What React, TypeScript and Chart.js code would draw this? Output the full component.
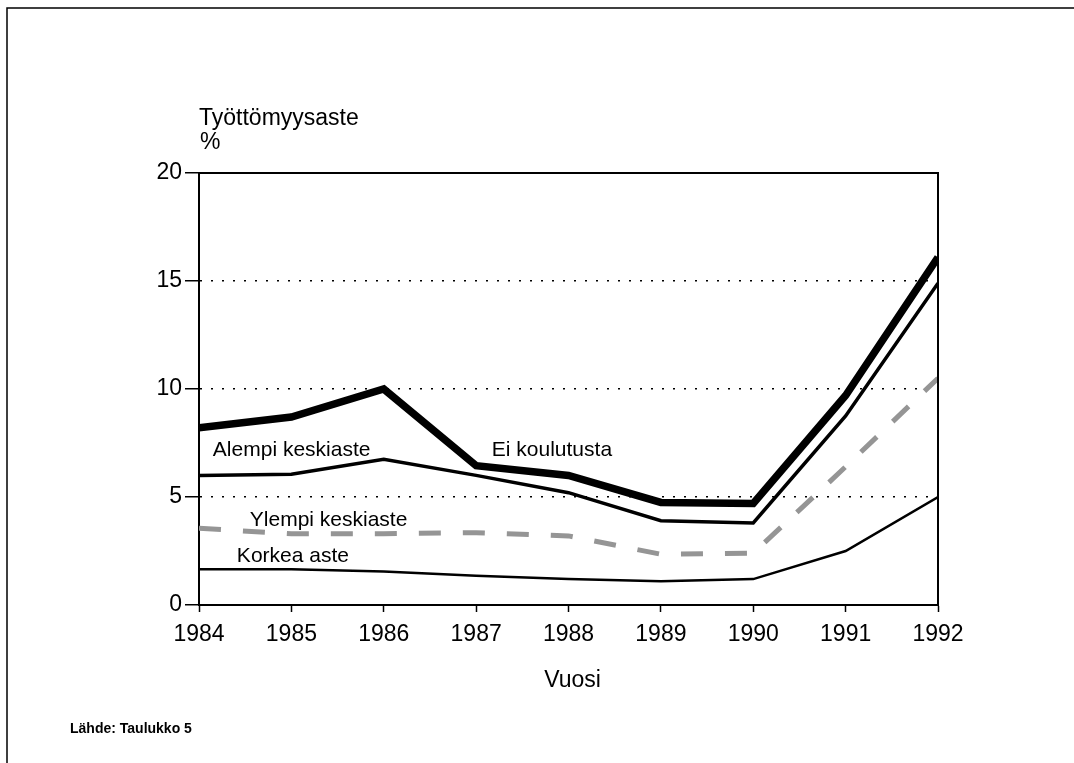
import React, { useEffect, useRef } from "react";
import { Chart, registerables } from "chart.js";

Chart.register(...registerables);

const years = [1984, 1985, 1986, 1987, 1988, 1989, 1990, 1991, 1992];
const eiKoulutusta = [8.2, 8.7, 10.0, 6.45, 6.0, 4.75, 4.7, 9.7, 16.1];
const alempiKeskiaste = [6.0, 6.05, 6.75, 6.0, 5.2, 3.9, 3.8, 8.75, 14.9];
const ylempiKeskiaste = [3.55, 3.3, 3.3, 3.35, 3.2, 2.35, 2.4, 6.4, 10.5];
const korkeaAste = [1.65, 1.65, 1.55, 1.35, 1.2, 1.1, 1.2, 2.5, 5.0];
const yTicks = [0, 5, 10, 15, 20];

const seriesLabels = [
  { text: "Alempi keskiaste", x: 1984.15, y: 7.18 },
  { text: "Ei koulutusta", x: 1987.17, y: 7.18 },
  { text: "Ylempi keskiaste", x: 1984.55, y: 3.94 },
  { text: "Korkea aste", x: 1984.41, y: 2.27 },
];

const FONT = "'Liberation Sans', Arial, Helvetica, sans-serif";

const toXY = (vals: number[]) => vals.map((v, i) => ({ x: years[i], y: v }));

const decorPlugin = {
  id: "decor",
  beforeDraw(chart: any) {
    const ctx = chart.ctx;
    ctx.save();
    ctx.fillStyle = "#fff";
    ctx.fillRect(0, 0, chart.width, chart.height);
    ctx.strokeStyle = "#000";
    ctx.lineWidth = 1.5;
    ctx.beginPath();
    ctx.moveTo(7, chart.height);
    ctx.lineTo(7, 8);
    ctx.lineTo(chart.width, 8);
    ctx.stroke();
    ctx.restore();
  },
  afterDraw(chart: any) {
    const ctx = chart.ctx;
    const ca = chart.chartArea;
    const xs = chart.scales.x;
    const ys = chart.scales.y;
    ctx.save();
    ctx.strokeStyle = "#000";
    ctx.lineWidth = 2;
    ctx.beginPath();
    ctx.moveTo(ca.left, ca.top);
    ctx.lineTo(ca.right, ca.top);
    ctx.lineTo(ca.right, ca.bottom);
    ctx.stroke();

    ctx.fillStyle = "#000";
    ctx.textBaseline = "middle";
    ctx.textAlign = "left";
    ctx.font = `23px ${FONT}`;
    ctx.fillText("Työttömyysaste", ca.left, ca.top - 54);
    ctx.fillText("%", ca.left + 1, ca.top - 30);
    ctx.textAlign = "center";
    ctx.fillText("Vuosi", (ca.left + ca.right) / 2 + 4, ca.bottom + 76);

    ctx.textAlign = "left";
    ctx.font = `21px ${FONT}`;
    seriesLabels.forEach((l) => {
      ctx.fillText(l.text, xs.getPixelForValue(l.x), ys.getPixelForValue(l.y));
    });

    ctx.font = `bold 14px ${FONT}`;
    ctx.fillText("Lähde: Taulukko 5", 70, 729);
    ctx.restore();
  },
};

export default function App() {
  const ref = useRef<HTMLCanvasElement | null>(null);
  useEffect(() => {
    if (!ref.current) return;
    Chart.defaults.font.family = FONT;
    Chart.defaults.color = "#000";
    const chart = new Chart(ref.current, {
      type: "line",
      data: {
        datasets: [
          {
            label: "Ei koulutusta",
            data: toXY(eiKoulutusta),
            borderColor: "#000",
            borderWidth: 7.5,
            pointRadius: 0,
            tension: 0,
          },
          {
            label: "Alempi keskiaste",
            data: toXY(alempiKeskiaste),
            borderColor: "#000",
            borderWidth: 3.5,
            pointRadius: 0,
            tension: 0,
          },
          {
            label: "Ylempi keskiaste",
            data: toXY(ylempiKeskiaste),
            borderColor: "#959595",
            borderWidth: 5,
            borderDash: [22, 22],
            pointRadius: 0,
            tension: 0,
          },
          {
            label: "Korkea aste",
            data: toXY(korkeaAste),
            borderColor: "#000",
            borderWidth: 2.5,
            pointRadius: 0,
            tension: 0,
          },
        ],
      },
      options: {
        animation: false,
        responsive: false,
        events: [],
        layout: { padding: { left: 129, top: 173, right: 136, bottom: 98 } },
        plugins: { legend: { display: false }, tooltip: { enabled: false } },
        scales: {
          x: {
            type: "linear",
            min: 1984,
            max: 1992,
            afterFit: (s: any) => {
              s.height = 60;
              s.paddingLeft = 0;
              s.paddingRight = 0;
            },
            ticks: {
              stepSize: 1,
              callback: (v: any) => String(v),
              font: { size: 23 },
              padding: 9,
              maxRotation: 0,
              autoSkip: false,
            },
            grid: {
              drawOnChartArea: false,
              drawTicks: true,
              tickLength: 7,
              tickColor: "#000",
              tickWidth: 1.5,
            },
            border: { display: true, color: "#000", width: 2 },
          },
          y: {
            min: 0,
            max: 20,
            afterFit: (s: any) => {
              s.width = 70;
              s.paddingTop = 0;
              s.paddingBottom = 0;
            },
            afterBuildTicks: (s: any) => {
              s.ticks = yTicks.map((v) => ({ value: v }));
            },
            ticks: {
              font: { size: 23 },
              padding: 3,
            },
            grid: {
              color: (c: any) =>
                c.tick && c.tick.value > 0 && c.tick.value < 20 ? "#000" : "rgba(0,0,0,0)",
              lineWidth: 1.5,
              drawTicks: true,
              tickLength: 14,
              tickColor: "#000",
              tickWidth: 1.5,
            },
            border: { display: true, color: "#000", width: 2, dash: [2, 9] },
          },
        },
      },
      plugins: [decorPlugin],
    });
    return () => chart.destroy();
  }, []);
  return (
    <div style={{ position: "fixed", left: 0, top: 0, width: 1074, height: 763 }}>
      <canvas ref={ref} width={1074} height={763} />
    </div>
  );
}
